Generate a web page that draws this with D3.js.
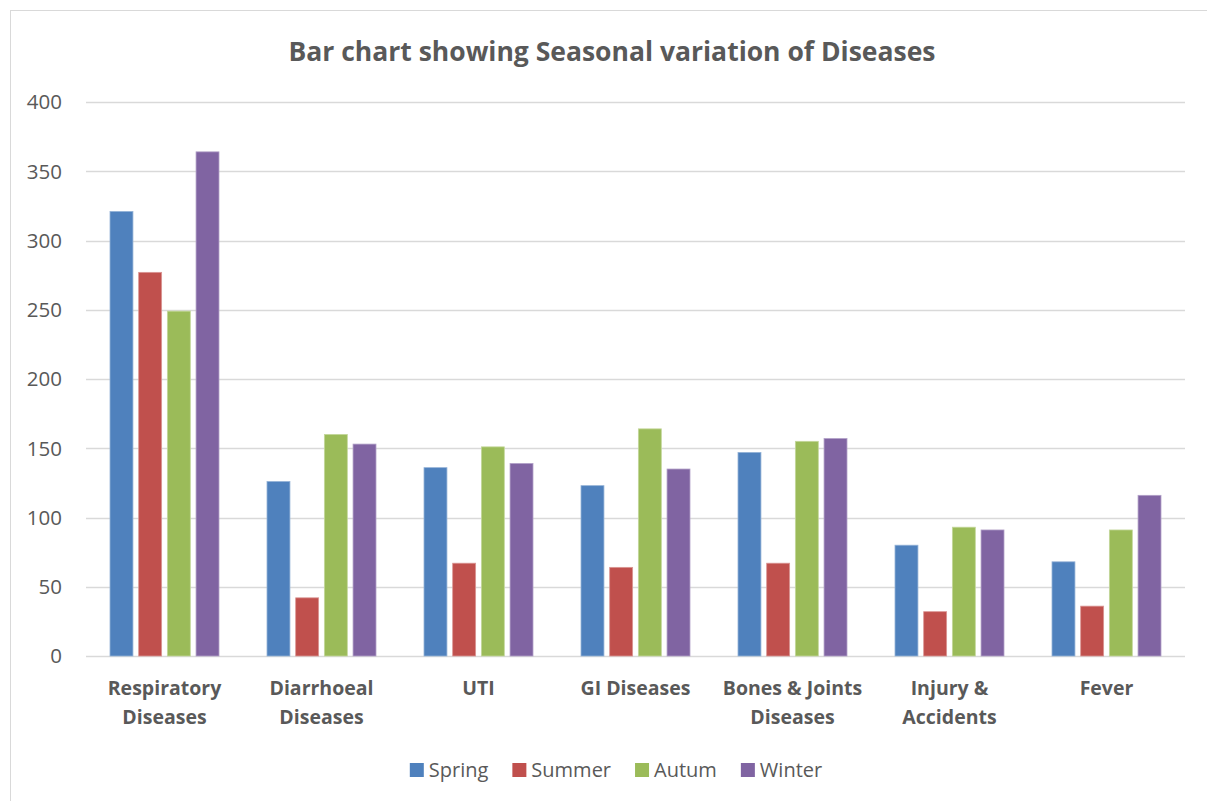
<!DOCTYPE html>
<html>
<head>
<meta charset="utf-8">
<script src="https://cdn.jsdelivr.net/npm/d3@7"></script>
<style>
  html, body { margin: 0; padding: 0; background: #fff; }
  svg { display: block; }
  text { font-family: "Open Sans", "Noto Sans", sans-serif; fill: #595959; }
</style>
</head>
<body>
<svg id="chart" width="1207" height="801"></svg>
<script>
// ---- data ----
const categories = [
  ["Respiratory", "Diseases"],
  ["Diarrhoeal", "Diseases"],
  ["UTI"],
  ["GI Diseases"],
  ["Bones & Joints", "Diseases"],
  ["Injury &", "Accidents"],
  ["Fever"]
];
const seriesNames = ["Spring", "Summer", "Autum", "Winter"];
const spring = [321, 126, 136, 123, 147, 80, 68];
const summer = [277, 42, 67, 64, 67, 32, 36];
const autum  = [249, 160, 151, 164, 155, 93, 91];
const winter = [364, 153, 139, 135, 157, 91, 116];
const seriesValues = [spring, summer, autum, winter];
const yTicks = [0, 50, 100, 150, 200, 250, 300, 350, 400];
const colors = ["#4F81BD", "#C0504D", "#9BBB59", "#8064A2"];
const strokeColors = ["#95B3D7", "#DA9694", "#C4D79B", "#B1A0C7"];
const title = "Bar chart showing Seasonal variation of Diseases";

// ---- layout ----
const svg = d3.select("#chart");
const plot = { left: 86, right: 1185, top: 102, bottom: 656 };

// outer frame (top and left edges visible)
svg.append("rect")
  .attr("x", 10.5).attr("y", 10.5)
  .attr("width", 1230).attr("height", 830)
  .attr("fill", "none").attr("stroke", "#D9D9D9").attr("stroke-width", 1);

const catIdx = categories.map((d, i) => i);
const x0 = d3.scaleBand().domain(catIdx).range([plot.left, plot.right]).padding(0);
const inset = 24;
const x1 = d3.scaleBand().domain(d3.range(seriesNames.length))
  .range([inset, x0.bandwidth() - inset]).paddingInner(0.2).paddingOuter(0);
const y = d3.scaleLinear().domain([0, 400]).range([plot.bottom, plot.top]);

// gridlines
svg.append("g")
  .selectAll("line").data(yTicks).join("line")
  .attr("x1", plot.left).attr("x2", plot.right)
  .attr("y1", d => Math.round(y(d)) + 0.5).attr("y2", d => Math.round(y(d)) + 0.5)
  .attr("stroke", "#D9D9D9").attr("stroke-width", 1.5);

// y axis labels
const yAxis = d3.axisLeft(y).tickValues(yTicks).tickSize(0).tickPadding(0);
const yg = svg.append("g").attr("transform", `translate(62,0)`).call(yAxis);
yg.select(".domain").remove();
yg.selectAll("text")
  .style("font-family", '"Open Sans", sans-serif')
  .style("font-size", "20.5px").attr("fill", "#595959").attr("dy", "0.34em");

// bars
const groups = svg.append("g").selectAll("g").data(catIdx).join("g")
  .attr("transform", i => `translate(${x0(i)},0)`);
groups.selectAll("rect")
  .data(i => seriesValues.map((s, k) => ({ k, v: s[i] })))
  .join("rect")
  .attr("x", d => x1(d.k))
  .attr("width", x1.bandwidth())
  .attr("y", d => y(d.v))
  .attr("height", d => y(0) - y(d.v))
  .attr("fill", d => colors[d.k])
  .attr("stroke", d => strokeColors[d.k])
  .attr("stroke-width", 0.8);

// x labels
const xl = svg.append("g").selectAll("text").data(catIdx).join("text")
  .attr("x", i => x0(i) + x0.bandwidth() / 2)
  .attr("y", 695)
  .attr("text-anchor", "middle")
  .style("font-weight", "bold").style("font-size", "19.5px");
xl.selectAll("tspan").data(i => categories[i]).join("tspan")
  .attr("x", function () { return d3.select(this.parentNode).attr("x"); })
  .attr("dy", (d, j) => j === 0 ? 0 : 29)
  .text(d => d);

// title
svg.append("text")
  .attr("x", 612).attr("y", 61)
  .attr("text-anchor", "middle")
  .style("font-weight", "bold").style("font-size", "26.5px")
  .text(title);

// legend
const legend = svg.append("g");
const items = legend.selectAll("g").data(seriesNames).join("g");
items.append("rect").attr("width", 14).attr("height", 14).attr("y", 763)
  .attr("fill", (d, k) => colors[k]);
items.append("text").attr("x", 19).attr("y", 777).style("font-size", "20px").text(d => d);
const widths = [];
items.each(function () {
  widths.push(19 + this.querySelector("text").getComputedTextLength());
});
const gap = 24;
const total = d3.sum(widths) + gap * (widths.length - 1);
let start = 616 - total / 2;
items.attr("transform", (d, k) => {
  const t = `translate(${start},0)`;
  start += widths[k] + gap;
  return t;
});
</script>
</body>
</html>
